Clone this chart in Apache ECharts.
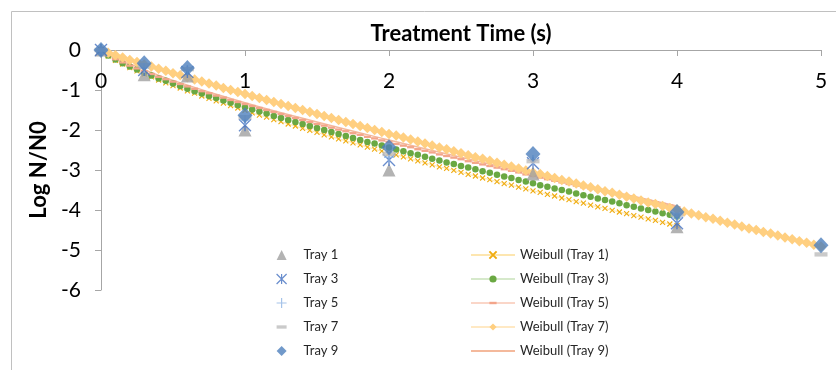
<!DOCTYPE html>
<html><head><meta charset="utf-8">
<script src="https://cdn.jsdelivr.net/npm/echarts@6/dist/echarts.min.js"></script>
<style>html,body{margin:0;padding:0;background:#fff}#c{width:836px;height:370px}</style>
</head><body><div id="c"></div>
<script>
// ---- measured data ----
const trayTimes = [0, 0.3, 0.6, 1, 2, 3, 4, 5];
const tray1 = [0, -0.62, -0.65, -2.0, -3.0, -3.1, -4.42, null];
const tray3 = [0, -0.5, -0.55, -1.88, -2.75, -2.83, -4.33, null];
const tray5 = [0, -0.45, -0.5, -1.75, -2.68, -2.75, -4.2, null];
const tray7 = [0, -0.38, -0.48, -1.68, -2.6, -2.78, -4.12, -5.11];
const tray9 = [0, -0.33, -0.45, -1.63, -2.43, -2.6, -4.05, -4.88];

const fitTimes = [0,0.05,0.1,0.15,0.2,0.25,0.3,0.35,0.4,0.45,0.5,0.55,0.6,0.65,0.7,0.75,0.8,0.85,0.9,0.95,1,
  1.05,1.1,1.15,1.2,1.25,1.3,1.35,1.4,1.45,1.5,1.55,1.6,1.65,1.7,1.75,1.8,1.85,1.9,1.95,2,
  2.05,2.1,2.15,2.2,2.25,2.3,2.35,2.4,2.45,2.5,2.55,2.6,2.65,2.7,2.75,2.8,2.85,2.9,2.95,3,
  3.05,3.1,3.15,3.2,3.25,3.3,3.35,3.4,3.45,3.5,3.55,3.6,3.65,3.7,3.75,3.8,3.85,3.9,3.95,4,
  4.05,4.1,4.15,4.2,4.25,4.3,4.35,4.4,4.45,4.5,4.55,4.6,4.65,4.7,4.75,4.8,4.85,4.9,4.95,5];
const weibull1 = [0,-0.15,-0.26,-0.35,-0.44,-0.52,-0.60,-0.67,-0.75,-0.82,-0.89,-0.95,-1.02,-1.08,-1.15,-1.21,-1.27,-1.33,-1.39,-1.45,-1.51,
  -1.57,-1.63,-1.68,-1.74,-1.79,-1.85,-1.90,-1.96,-2.01,-2.06,-2.12,-2.17,-2.22,-2.27,-2.32,-2.37,-2.43,-2.48,-2.53,-2.58,
  -2.62,-2.67,-2.72,-2.77,-2.82,-2.87,-2.92,-2.96,-3.01,-3.06,-3.11,-3.15,-3.20,-3.24,-3.29,-3.34,-3.38,-3.43,-3.47,-3.52,
  -3.56,-3.61,-3.65,-3.70,-3.74,-3.79,-3.83,-3.88,-3.92,-3.96,-4.01,-4.05,-4.09,-4.14,-4.18,-4.22,-4.26,-4.31,-4.35,-4.39];
const weibull3 = [0,-0.14,-0.24,-0.33,-0.41,-0.49,-0.57,-0.64,-0.71,-0.77,-0.84,-0.90,-0.97,-1.03,-1.09,-1.15,-1.20,-1.26,-1.32,-1.38,-1.43,
  -1.49,-1.54,-1.59,-1.65,-1.70,-1.75,-1.80,-1.85,-1.90,-1.95,-2.00,-2.05,-2.10,-2.15,-2.20,-2.25,-2.30,-2.34,-2.39,-2.44,
  -2.49,-2.53,-2.58,-2.62,-2.67,-2.72,-2.76,-2.81,-2.85,-2.90,-2.94,-2.98,-3.03,-3.07,-3.12,-3.16,-3.20,-3.25,-3.29,-3.33,
  -3.38,-3.42,-3.46,-3.50,-3.54,-3.59,-3.63,-3.67,-3.71,-3.75,-3.79,-3.83,-3.88,-3.92,-3.96,-4.00,-4.04,-4.08,-4.12,-4.16];
const weibull5 = [0,-0.13,-0.23,-0.31,-0.39,-0.46,-0.53,-0.60,-0.67,-0.73,-0.79,-0.85,-0.91,-0.97,-1.03,-1.08,-1.14,-1.19,-1.25,-1.30,-1.35,
  -1.40,-1.45,-1.50,-1.55,-1.60,-1.65,-1.70,-1.75,-1.80,-1.85,-1.89,-1.94,-1.99,-2.03,-2.08,-2.12,-2.17,-2.21,-2.26,-2.30,
  -2.35,-2.39,-2.43,-2.48,-2.52,-2.56,-2.61,-2.65,-2.69,-2.73,-2.78,-2.82,-2.86,-2.90,-2.94,-2.98,-3.02,-3.06,-3.11,-3.15,
  -3.19,-3.23,-3.27,-3.31,-3.35,-3.39,-3.43,-3.46,-3.50,-3.54,-3.58,-3.62,-3.66,-3.70,-3.74,-3.77,-3.81,-3.85,-3.89,-3.93];
const weibull7 = [0,-0.07,-0.13,-0.19,-0.25,-0.30,-0.36,-0.41,-0.47,-0.52,-0.58,-0.63,-0.68,-0.74,-0.79,-0.84,-0.89,-0.95,-1.00,-1.05,-1.10,
  -1.15,-1.20,-1.25,-1.30,-1.35,-1.40,-1.45,-1.50,-1.55,-1.60,-1.65,-1.70,-1.75,-1.80,-1.85,-1.90,-1.95,-2.00,-2.05,-2.10,
  -2.14,-2.19,-2.24,-2.29,-2.34,-2.39,-2.44,-2.48,-2.53,-2.58,-2.63,-2.68,-2.72,-2.77,-2.82,-2.87,-2.91,-2.96,-3.01,-3.06,
  -3.10,-3.15,-3.20,-3.25,-3.29,-3.34,-3.39,-3.43,-3.48,-3.53,-3.57,-3.62,-3.67,-3.71,-3.76,-3.81,-3.85,-3.90,-3.95,-3.99,
  -4.04,-4.09,-4.13,-4.18,-4.22,-4.27,-4.32,-4.36,-4.41,-4.46,-4.50,-4.55,-4.59,-4.64,-4.69,-4.73,-4.78,-4.82,-4.87,-4.91];
const fit9Times = [0, 0.1, 0.25, 0.5, 1, 1.5, 2, 2.5, 3, 3.5, 4];
const weibull9 = [0, -0.21, -0.42, -0.76, -1.32, -1.80, -2.25, -2.68, -3.10, -3.50, -3.90];

const xTicks = [0, 1, 2, 3, 4, 5];
const yTicks = [-6, -5, -4, -3, -2, -1, 0];

function pairs(ts, vs) {
  const out = [];
  for (let i = 0; i < vs.length; i++) if (vs[i] !== null && vs[i] !== undefined) out.push([ts[i], vs[i]]);
  return out;
}

const FONT = 'Lato, "Open Sans", sans-serif';
const AX = '#a6a6a6';

function fitSeries(name, ts, vs, symbol, size, color, lineColor, stroke) {
  return {
    name, type: 'line', data: pairs(ts, vs), symbol, symbolSize: size,
    showSymbol: true, showAllSymbol: true, clip: false, smooth: false,
    lineStyle: {color: lineColor, width: 1},
    itemStyle: stroke ? {color: 'transparent', borderColor: color, borderWidth: 1.1} : {color: color},
    emphasis: {disabled: true}, z: 2
  };
}
function traySeries(name, vs, symbol, size, color, stroke) {
  return {
    name, type: 'scatter', data: pairs(trayTimes, vs), symbol, symbolSize: size, clip: false,
    itemStyle: stroke ? {color: 'transparent', borderColor: color, borderWidth: 1.4} : {color: color},
    emphasis: {disabled: true}, z: 3
  };
}

const XSYM = 'path://M0,0L10,10M10,0L0,10';
const STAR = 'path://M0,0L10,10M10,0L0,10M5,0L5,10';
const PLUS = 'path://M5,0L5,10M0,5L10,5';
const DASH = 'path://M0,0M12,12M0,4L12,4L12,8L0,8Z';

const chart = echarts.init(document.getElementById('c'));
chart.setOption({
  animation: false,
  backgroundColor: '#fff',
  textStyle: {fontFamily: FONT},
  graphic: [{type: 'rect', shape: {x: 11.5, y: 11.5, width: 900, height: 500},
    style: {fill: 'none', stroke: '#c0c0c0', lineWidth: 1}, silent: true, z: 0}],
  grid: {left: 101, right: 15, top: 50, bottom: 80},
  xAxis: {
    type: 'value', position: 'top', min: xTicks[0], max: xTicks[xTicks.length - 1], interval: 1,
    name: 'Treatment Time (s)', nameLocation: 'middle', nameGap: 5,
    nameTextStyle: {fontSize: 22, fontWeight: 'bold', color: '#000', fontFamily: FONT},
    axisLine: {lineStyle: {color: AX, width: 1}},
    axisTick: {inside: true, length: 6, lineStyle: {color: AX}},
    axisLabel: {inside: true, margin: 21, fontSize: 21, color: '#000', fontFamily: FONT},
    splitLine: {show: false}
  },
  yAxis: {
    type: 'value', min: yTicks[0], max: yTicks[yTicks.length - 1], interval: 1,
    name: 'Log N/N0', nameLocation: 'middle', nameGap: 45, nameRotate: 90,
    nameTextStyle: {fontSize: 22, fontWeight: 'bold', color: '#000', fontFamily: FONT},
    axisLine: {show: true, lineStyle: {color: AX, width: 1}},
    axisTick: {show: true, length: 6, lineStyle: {color: AX}},
    axisLabel: {margin: 20, fontSize: 21, color: '#000', fontFamily: FONT},
    splitLine: {show: false}
  },
  legend: [
    {left: 271, top: 243, orient: 'vertical', itemWidth: 10, itemHeight: 10, itemGap: 10,
     data: ['Tray 1', 'Tray 3', 'Tray 5', 'Tray 7', 'Tray 9'],
     itemStyle: {borderWidth: 1.2},
     textStyle: {fontSize: 13, color: '#262626', lineHeight: 14, padding: [0, 0, 0, 12], fontFamily: FONT},
     selectedMode: false},
    {left: 465, top: 243, orient: 'vertical', itemWidth: 44, itemHeight: 9, itemGap: 10,
     data: ['Weibull (Tray 1)', 'Weibull (Tray 3)', 'Weibull (Tray 5)', 'Weibull (Tray 7)', 'Weibull (Tray 9)'],
     textStyle: {fontSize: 13, color: '#262626', lineHeight: 14, fontFamily: FONT},
     selectedMode: false}
  ],
  series: [
    fitSeries('Weibull (Tray 1)', fitTimes, weibull1, XSYM, 5, '#f0ac10', '#fde6b0', true),
    fitSeries('Weibull (Tray 3)', fitTimes, weibull3, 'circle', 6.5, '#6aa842', '#d6e9cb', false),
    fitSeries('Weibull (Tray 5)', fitTimes, weibull5, DASH, 7, '#f3a58a', '#fad6c8', false),
    fitSeries('Weibull (Tray 7)', fitTimes, weibull7, 'diamond', 10.5, '#ffcf80', '#ffe9c4', false),
    {name: 'Weibull (Tray 9)', type: 'line', data: pairs(fit9Times, weibull9), smooth: true,
     symbol: 'circle', showSymbol: false, clip: false,
     lineStyle: {color: '#f4b99c', width: 1.5}, itemStyle: {color: 'transparent'}, emphasis: {disabled: true}, z: 2},
    traySeries('Tray 1', tray1, 'triangle', 13, '#a0a0a0', false),
    traySeries('Tray 3', tray3, STAR, 12, '#4470c0', true),
    traySeries('Tray 5', tray5, PLUS, 10, '#8fb4e3', true),
    traySeries('Tray 7', tray7, DASH, 13, '#bdbdbd', false),
    traySeries('Tray 9', tray9, 'diamond', [15, 16], '#4d80bd', false)
  ]
});
</script>
</body></html>
